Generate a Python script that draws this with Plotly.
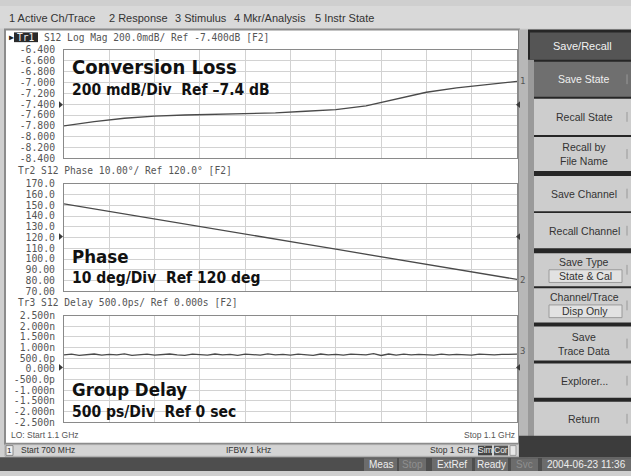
import plotly.graph_objects as go

W, H = 631, 476

# sweep points (MHz) and the three measured traces
freq_mhz = [700, 720, 740, 760, 780, 800, 820, 840, 860, 880, 900, 920, 940, 960, 980, 1000]
loss_db = [-7.80, -7.72, -7.66, -7.62, -7.60, -7.59, -7.58, -7.56, -7.53, -7.50, -7.43, -7.30, -7.18, -7.10, -7.04, -6.98]
phase_deg = [151.3, 146.7, 141.9, 137.3, 132.6, 127.8, 123.2, 118.4, 113.9, 109.1, 104.5, 99.6, 95.1, 90.2, 85.6, 81.0]

delay_freq_mhz = [700, 705, 710, 715, 720, 725, 730, 735, 740, 745, 750, 755, 760, 765, 770, 775,
                  780, 785, 790, 795, 800, 805, 810, 815, 820, 825, 830, 835, 840, 845, 850, 855,
                  860, 865, 870, 875, 880, 885, 890, 895, 900, 905, 910, 915, 920, 925, 930, 935,
                  940, 945, 950, 955, 960, 965, 970, 975, 980, 985, 990, 995, 1000]
delay_ns = [0.66, 0.69, 0.64, 0.67, 0.70, 0.65, 0.68, 0.66, 0.71, 0.64, 0.67, 0.69, 0.65, 0.68, 0.70, 0.66,
            0.64, 0.69, 0.67, 0.65, 0.70, 0.66, 0.68, 0.64, 0.69, 0.67, 0.65, 0.71, 0.66, 0.68, 0.65, 0.69,
            0.67, 0.64, 0.70, 0.66, 0.68, 0.65, 0.69, 0.67, 0.66, 0.72, 0.63, 0.70, 0.65, 0.69, 0.66, 0.68,
            0.67, 0.65, 0.69, 0.66, 0.68, 0.67, 0.65, 0.69, 0.67, 0.66, 0.68, 0.70, 0.69]

loss_tick_vals = [-6.4, -6.6, -6.8, -7.0, -7.2, -7.4, -7.6, -7.8, -8.0, -8.2, -8.4]
loss_tick_text = ["-6.400", "-6.600", "-6.800", "-7.000", "-7.200", "-7.400", "-7.600", "-7.800", "-8.000", "-8.200", "-8.400"]
phase_tick_vals = [170, 160, 150, 140, 130, 120, 110, 100, 90, 80, 70]
phase_tick_text = ["170.0", "160.0", "150.0", "140.0", "130.0", "120.0", "110.0", "100.0", "90.00", "80.00", "70.00"]
delay_tick_vals = [2.5, 2.0, 1.5, 1.0, 0.5, 0.0, -0.5, -1.0, -1.5, -2.0, -2.5]
delay_tick_text = ["2.500n", "2.000n", "1.500n", "1.000n", "500.0p", "0.000", "-500.0p", "-1.000n", "-1.500n", "-2.000n", "-2.500n"]

menu_items = ["1 Active Ch/Trace", "2 Response", "3 Stimulus", "4 Mkr/Analysis", "5 Instr State"]
softkeys = ["Save State", "Recall State", "Recall by<br>File Name", "Save Channel", "Recall Channel",
            "Save Type", "Channel/Trace", "Save<br>Trace Data", "Explorer...", "Return"]

MONO = "DejaVu Sans Mono, Liberation Mono, monospace"
SANS = "Liberation Sans, Arial, sans-serif"
BOLD = "Liberation Sans Narrow, DejaVu Sans Condensed, Arial Narrow, sans-serif"
SP = "&nbsp;&nbsp;"

shapes = []
notes = []


def px(x):
    return x / W


def py(y):
    return 1 - y / H


def box(x0, y0, x1, y1, fill, line=None, width=1):
    shapes.append(dict(type="rect", xref="paper", yref="paper", layer="below",
                       x0=px(x0), x1=px(x1), y0=py(y1), y1=py(y0), fillcolor=fill,
                       line=dict(color=line or fill, width=width if line else 0)))


def label(x, y, text, size=10, color="#333", anchor="left", family=SANS, bg=None):
    notes.append(dict(x=px(x), y=py(y), xref="paper", yref="paper", text=text, showarrow=False,
                      xanchor=anchor, yanchor="middle", bgcolor=bg, borderpad=0,
                      font=dict(size=size, color=color, family=family)))


def arrow(x, y, right=True):
    # small solid reference triangle
    if right:
        path = f"M {px(x)},{py(y - 3.5)} L {px(x + 4)},{py(y)} L {px(x)},{py(y + 3.5)} Z"
    else:
        path = f"M {px(x)},{py(y - 3.5)} L {px(x - 4)},{py(y)} L {px(x)},{py(y + 3.5)} Z"
    shapes.append(dict(type="path", xref="paper", yref="paper", path=path,
                       fillcolor="#3a3a3a", line=dict(width=0)))


# ---- window chrome ----
box(0, 0, W, 23, "#d9d9d9")
for name, x in zip(menu_items, [8, 108, 174, 233, 314]):
    label(x, 12, name, 11, "#333")

box(5, 24, 519, 448, "white", "#8c8c8c", 2)
box(5, 449, 519, 461, "#d4d4d4", "#aaaaaa")
box(519, 24, 528, 462, "#b8b8b8")
box(519, 440, W, 462, "#3c3c3c")
box(0, 462, W, H, "#4e4e4e")

# status strip
box(6, 450, 13, 460, "#eeeeee", "#888")
label(9.5, 455, "1", 8, "#222", "center")
label(20, 455, "Start 700 MHz", 8.5, "#333")
label(225, 455, "IFBW 1 kHz", 8.5, "#333")
label(475, 455, "Stop 1 GHz", 8.5, "#333", "right")
box(478, 450, 492, 460, "#444")
label(485, 455, "Sim", 8.5, "#eee", "center")
box(494, 450, 508, 460, "#555")
label(501, 455, "Cor", 8.5, "#eee", "center")
box(510, 450, 516, 460, "#e8e8e8", "#999")

# bottom status boxes
for txt, x0, x1, dim in [("Meas", 364, 397, False), ("Stop", 399, 426, True), ("ExtRef", 432, 472, False),
                         ("Ready", 475, 508, False), ("Svc", 511, 538, True), ("2004-06-23 11:36", 542, 631, False)]:
    box(x0, 463, x1, 476, "#6c6c6c")
    label((x0 + x1) / 2, 469.5, txt, 10, "#8f8f8f" if dim else "#eeeeee", "center")

# ---- softkey panel ----
box(528, 24, W, 440, "#262626")
box(528, 55, 534, 440, "#9a9a9a")
box(530, 27, W, 55, "#555555")
label(582, 41, "Save/Recall", 11, "#f2f2f2", "center")
key_rows = [(57, 93), (95, 132), (134, 169), (174, 210), (212, 248), (253, 287), (289, 324), (328, 363), (366, 401), (405, 440)]
for i, (name, (y0, y1)) in enumerate(zip(softkeys, key_rows)):
    sel = i == 0
    box(534, y0, W, y1, "#6f6f6f" if sel else "#cdcdcd")
    shapes.append(dict(type="line", xref="paper", yref="paper", x0=px(627), x1=px(627),
                       y0=py((y0 + y1) / 2 - 5), y1=py((y0 + y1) / 2 + 5), line=dict(color="#999", width=1)))
    if name in ("Save Type", "Channel/Trace"):
        label(584, y0 + 9, name, 10.5, "#333", "center")
        box(549, y0 + 17, 622, y0 + 30, "#e2e2e2", "#9a9a9a")
        label(585, y0 + 23.5, "State &amp; Cal" if name == "Save Type" else "Disp Only", 10.5, "#333", "center")
    else:
        label(584, (y0 + y1) / 2, name, 10.5, "#f0f0f0" if sel else "#333", "center")

# ---- traces ----
panels = [
    (45, 156, [-8.4, -6.4], loss_tick_vals, loss_tick_text, freq_mhz, loss_db),
    (182, 292, [70, 170], phase_tick_vals, phase_tick_text, freq_mhz, phase_deg),
    (317, 426, [-2.5, 2.5], delay_tick_vals, delay_tick_text, delay_freq_mhz, delay_ns),
]

fig = go.Figure()
layout_axes = {}
for i, (top, bot, yr, tv, tt, xs, ys) in enumerate(panels, start=1):
    sfx = "" if i == 1 else str(i)
    fig.add_trace(go.Scatter(x=xs, y=ys, mode="lines", xaxis="x" + sfx, yaxis="y" + sfx,
                             line=dict(color="#4a4a4a", width=1.3), hoverinfo="skip"))
    layout_axes["xaxis" + sfx] = dict(domain=[px(64), px(517)], range=[700, 1000], tick0=700, dtick=30,
                                      showgrid=True, gridcolor="#d2d2d2", showticklabels=False, ticks="",
                                      showline=True, mirror=True, linecolor="#8a8a8a", zeroline=False,
                                      anchor="y" + sfx, fixedrange=True)
    layout_axes["yaxis" + sfx] = dict(domain=[py(bot), py(top)], range=yr, tickvals=tv, ticktext=tt,
                                      showgrid=True, gridcolor="#d2d2d2", ticks="", ticklabelstandoff=6,
                                      tickfont=dict(family=MONO, size=9.8, color="#555"),
                                      showline=True, mirror=True, linecolor="#8a8a8a", zeroline=False,
                                      anchor="x" + sfx, fixedrange=True)

# trace headers
label(8, 32, "▶", 8, "#222", family=MONO)
box(14, 27, 38, 37, "#2a2a2a")
label(16, 32, "Tr1", 9.6, "#f0f0f0", family=MONO)
label(43, 32, "S12 Log Mag 200.0mdB/ Ref -7.400dB [F2]", 9.6, "#555", family=MONO)
label(17, 168, "Tr2 S12 Phase 10.00°/ Ref 120.0° [F2]", 9.6, "#555", family=MONO)
label(17, 304, "Tr3 S12 Delay 500.0ps/ Ref 0.000s [F2]", 9.6, "#555", family=MONO)

# reference arrows and trace end numbers
for yref, yend, num in [(101, 77, "1"), (236, 280, "2"), (370, 353, "3")]:
    arrow(59, yref, True)
    arrow(520, yref, False)
    label(519, yend, num, 9, "#555", family=MONO)

label(10, 439, "LO: Start 1.1 GHz", 8.5, "#555")
label(516, 439, "Stop 1.1 GHz", 8.5, "#555", "right")

# big overlay captions
label(71, 62, "<b>Conversion Loss</b>", 20, "#111", family=BOLD)
label(71, 86, "<b>200 mdB/Div" + SP + "Ref –7.4 dB</b>", 15.5, "#111", family=BOLD)
label(71, 256, "<b>Phase</b>", 18.5, "#111", family=BOLD)
label(71, 278, "<b>10 deg/Div" + SP + "Ref 120 deg</b>", 15.5, "#111", family=BOLD)
label(71, 393, "<b>Group Delay</b>", 18.5, "#111", family=BOLD)
label(71, 416, "<b>500 ps/Div" + SP + "Ref 0 sec</b>", 15.5, "#111", family=BOLD)

fig.update_layout(
    width=W, height=H,
    margin=dict(l=0, r=0, t=0, b=0),
    paper_bgcolor="#cfcfcf",
    plot_bgcolor="white",
    showlegend=False,
    hovermode=False,
    shapes=shapes,
    annotations=notes,
    **layout_axes
)

fig.write_html("out.html", config={"displayModeBar": False},
               post_script="document.body.style.margin='0';document.body.style.overflow='hidden';")
